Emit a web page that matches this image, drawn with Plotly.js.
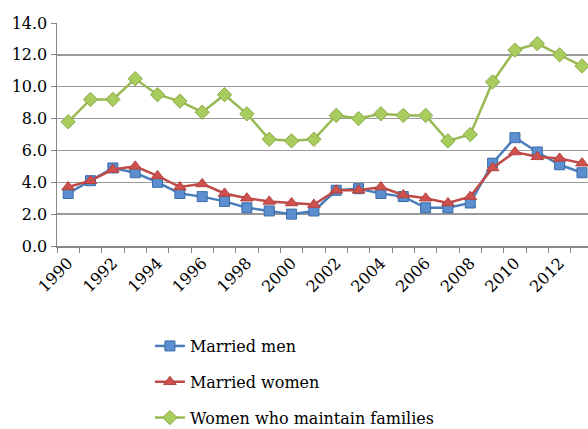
<!DOCTYPE html>
<html><head><meta charset="utf-8">
<script src="https://cdn.plot.ly/plotly-3.0.1.min.js"></script>
<style>html,body{margin:0;padding:0;background:#fff}#chart{width:588px;height:429px}</style>
</head><body><div id="chart"></div>
<script>
const years = [1990,1991,1992,1993,1994,1995,1996,1997,1998,1999,2000,2001,2002,2003,2004,2005,2006,2007,2008,2009,2010,2011,2012,2013];
const marriedMen = [3.3,4.1,4.9,4.6,4.0,3.3,3.1,2.8,2.4,2.2,2.0,2.2,3.5,3.6,3.3,3.1,2.4,2.4,2.7,5.2,6.8,5.9,5.1,4.6];
const marriedWomen = [3.7,4.1,4.8,5.0,4.4,3.7,3.9,3.3,3.0,2.8,2.7,2.6,3.5,3.5,3.7,3.2,3.0,2.7,3.1,4.9,5.9,5.6,5.5,5.2];
const womenFamilies = [7.8,9.2,9.2,10.5,9.5,9.1,8.4,9.5,8.3,6.7,6.6,6.7,8.2,8.0,8.3,8.2,8.2,6.6,7.0,10.3,12.3,12.7,12.0,11.3];
const seriesNames = ['Married men','Married women','Women who maintain families'];
const tickYears = [1990,1992,1994,1996,1998,2000,2002,2004,2006,2008,2010,2012];
const yTicks = [0,2,4,6,8,10,12,14];

const fontFam = 'DejaVu Serif';
const traces = [
  {x: years, y: marriedMen, name: seriesNames[0], legendgroup:'a', mode:'lines+markers',
   line:{color:'#4a7ebb', width:2.5},
   marker:{symbol:'square', size:10, color:'#5b8fd0', line:{color:'#3a6aa8', width:1}}},
  {x: years, y: marriedWomen, name: seriesNames[1], legendgroup:'b', mode:'lines+markers',
   line:{color:'#be4b48', width:2.5},
   marker:{symbol:'triangle-up', size:11, color:'#d0504d', line:{color:'#b04340', width:1}}},
  {x: years, y: womenFamilies, name: seriesNames[2], legendgroup:'c', mode:'lines+markers',
   line:{color:'#98b954', width:2.5},
   marker:{symbol:'diamond', size:11, color:'#a8cc5e', line:{color:'#8aaa48', width:1}}}
];
const layout = {
  width:588, height:429,
  margin:{l:57, r:0, t:23, b:183, autoexpand:false},
  paper_bgcolor:'#fff', plot_bgcolor:'#fff',
  showlegend:true,
  font:{family:fontFam, color:'#000', size:16},
  xaxis:{
    automargin:false,
    range:[1989.5, 2013.27], tickmode:'array', tickvals:tickYears, ticktext:tickYears.map(String),
    tickangle:-45, ticks:'', showgrid:false, zeroline:false,
    showline:true, linecolor:'#888', linewidth:1.5,
    tickfont:{family:fontFam, size:16, color:'#000'},
    minor:{tick0:1989.5, dtick:1, ticks:'outside', ticklen:5, tickcolor:'#888', tickwidth:1, showgrid:false}
  },
  yaxis:{
    automargin:false,
    range:[0,14], tickmode:'array', tickvals:yTicks, tickformat:'.1f',
    ticks:'outside', ticklen:5, tickcolor:'#888', tickwidth:1,
    showgrid:true, gridcolor:'#999', gridwidth:1.5, zeroline:false,
    showline:true, linecolor:'#888', linewidth:1.5,
    tickfont:{family:fontFam, size:16, color:'#000'}
  },
  legend:{x:0.175, xanchor:'left', yref:'container', y:0.233, yanchor:'top', orientation:'v',
    tracegroupgap:12, font:{family:fontFam, size:16, color:'#000'}, bgcolor:'rgba(0,0,0,0)'}
};
Plotly.newPlot('chart', traces, layout, {displayModeBar:false, staticPlot:true});
</script></body></html>
